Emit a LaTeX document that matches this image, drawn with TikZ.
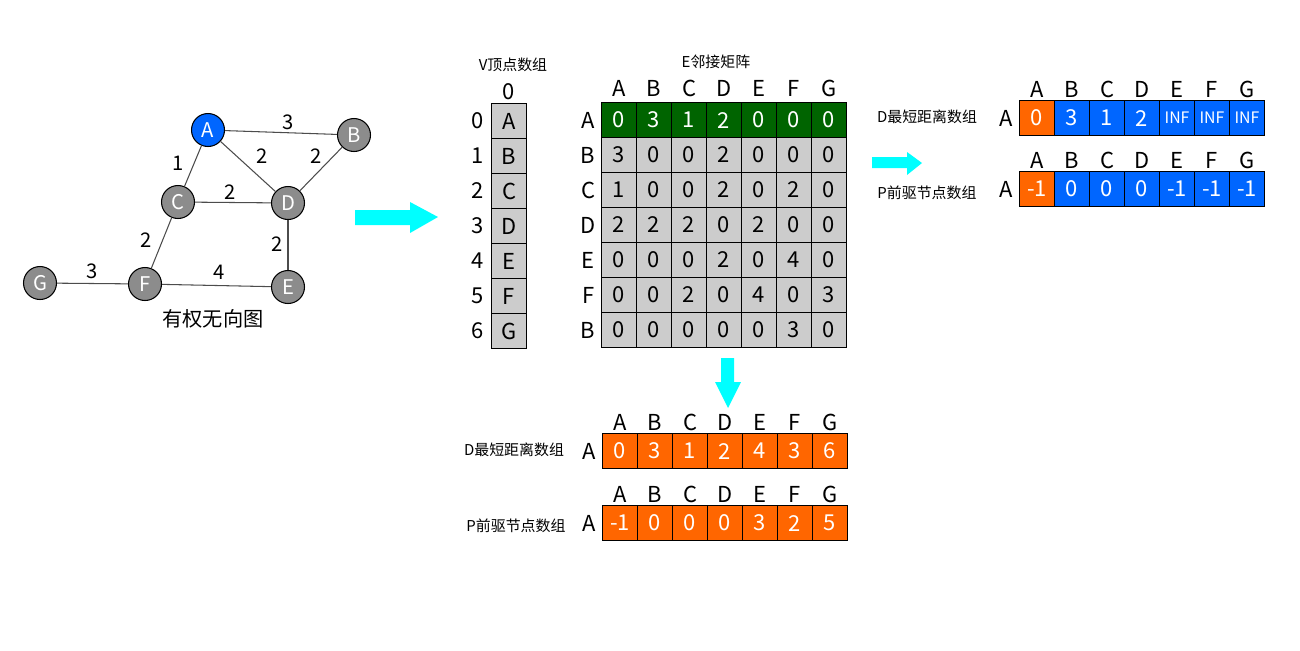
\documentclass[tikz,border=0pt]{standalone}
\usepackage{fontspec}
\setmainfont{Noto Sans CJK SC}
\usetikzlibrary{matrix}

\definecolor{blueA}{RGB}{0,102,255}
\definecolor{orangeA}{RGB}{255,102,0}
\definecolor{greenA}{RGB}{0,100,0}
\definecolor{cellgray}{RGB}{204,204,204}
\definecolor{nodegray}{RGB}{140,140,140}
\definecolor{flowcyan}{RGB}{0,255,255}

\begin{document}
\begin{tikzpicture}[
        x=0.02cm, y=-0.02cm, line width=0.6pt,
        vert/.style={circle, draw, fill=nodegray, text=white, minimum size=0.66cm, inner sep=0pt, font=\fontsize{11.5}{13}\selectfont}, % graph vertex
        link/.style={draw=black!70},
        wt/.style={inner sep=1pt, font=\fontsize{11.5}{13}\selectfont}, % edge weight
        arr/.style={draw, fill=cellgray, anchor=center, minimum size=0.7cm, inner sep=0pt, font=\fontsize{12.5}{14}\selectfont}, % array cell
        hd/.style={draw=none, fill=none, text=black, minimum height=0.5cm},
        lab/.style={draw=none, fill=none, text=black, minimum width=0.56cm},
        sm/.style={font=\fontsize{9}{10}\selectfont},
        arrname/.style={font=\fontsize{8.5}{10}\selectfont},
        flow/.style={fill=flowcyan},
        grid/.style={matrix of nodes, nodes={arr}, column sep=-\pgflinewidth, row sep=-\pgflinewidth, row 1/.style={nodes={hd}}},
    ]
    \useasboundingbox (0,0) rectangle (1300,650);

    % graph
    \node[vert, fill=blueA] (A) at (208,130) {A};
    \node[vert] (B) at (354,135) {B};
    \node[vert] (C) at (178,202) {C};
    \node[vert] (D) at (288,203) {D};
    \node[vert] (E) at (288,287) {E};
    \node[vert] (F) at (145,284) {F};
    \node[vert] (G) at (40,283) {G};
    \draw[link] (A) -- node[wt, above=0.5pt, pos=0.56] {3} (B);
    \draw[link] (A) -- node[wt, left=4.5pt, pos=0.44] {1} (C);
    \draw[link] (A) -- node[wt, above right=2pt, pos=0.55] {2} (D);
    \draw[link] (D) -- node[wt, above left=0pt, pos=0.58] {2} (B);
    \draw[link] (C) -- node[wt, above=0.5pt, pos=0.46] {2} (D);
    \draw[link] (C) -- node[wt, left=5pt, pos=0.44] {2} (F);
    \draw[link] (D) -- node[wt, left=1.5pt, pos=0.48] {2} (E);
    \draw[link] (G) -- node[wt, above=1.2pt, pos=0.5] {3} (F);
    \draw[link] (F) -- node[wt, above=2pt, pos=0.52] {4} (E);
    \node[font=\fontsize{11.5}{13}\selectfont] (gcap) at (213,319) {有权无向图};

    % arrows
    \fill[flow] (355,210) -- (410,210) -- (410,202) -- (438,217) -- (410,233) -- (410,225) -- (355,225) -- cycle;
    \fill[flow] (872,157) -- (907,157) -- (907,152) -- (922,163) -- (907,175) -- (907,168) -- (872,168) -- cycle;
    \fill[flow] (721,358) -- (734,358) -- (734,382) -- (741,382) -- (728,408) -- (715,382) -- (721,382) -- cycle;

    % vertex array
    \node[arrname] (vtitle) at (513,65) {V顶点数组};
    \matrix (vtx) [grid, matrix anchor=vtx-2-2.north west] at (491,103) {
          & 0 \\
        |[lab]| 0 & A \\
        |[lab]| 1 & B \\
        |[lab]| 2 & C \\
        |[lab]| 3 & D \\
        |[lab]| 4 & E \\
        |[lab]| 5 & F \\
        |[lab]| 6 & G \\
    };

    % adjacency matrix
    \node[arrname] (etitle) at (716,62) {E邻接矩阵};
    \matrix (adj) [grid, row 1/.style={nodes={hd, minimum height=0.6cm}}, row 2/.style={nodes={fill=greenA, text=white}}, matrix anchor=adj-2-2.north west] at (601,102) {
          & A & B & C & D & E & F & G \\
        |[lab]| A & 0 & 3 & 1 & 2 & 0 & 0 & 0 \\
        |[lab]| B & 3 & 0 & 0 & 2 & 0 & 0 & 0 \\
        |[lab]| C & 1 & 0 & 0 & 2 & 0 & 2 & 0 \\
        |[lab]| D & 2 & 2 & 2 & 0 & 2 & 0 & 0 \\
        |[lab]| E & 0 & 0 & 0 & 2 & 0 & 4 & 0 \\
        |[lab]| F & 0 & 0 & 2 & 0 & 4 & 0 & 3 \\
        |[lab]| B & 0 & 0 & 0 & 0 & 0 & 3 & 0 \\
    };

    % first step
    \node[arrname] (rdname) at (927,117) {D最短距离数组};
    \matrix (rd) [grid, row 1/.style={nodes={hd, minimum height=0.48cm}}, row 2/.style={nodes={fill=blueA, text=white}}, matrix anchor=rd-2-2.north west] at (1019,100) {
          & A & B & C & D & E & F & G \\
        |[lab]| A & |[fill=orangeA]| 0 & 3 & 1 & 2 & |[sm]| INF & |[sm]| INF & |[sm]| INF \\
    };
    \node[arrname] (rpname) at (927,193) {P前驱节点数组};
    \matrix (rp) [grid, row 1/.style={nodes={hd, minimum height=0.48cm}}, row 2/.style={nodes={fill=blueA, text=white}}, matrix anchor=rp-2-2.north west] at (1019,171) {
          & A & B & C & D & E & F & G \\
        |[lab]| A & |[fill=orangeA]| -1 & 0 & 0 & 0 & -1 & -1 & -1 \\
    };

    % result
    \node[arrname] (bdname) at (514,450) {D最短距离数组};
    \matrix (bd) [grid, row 1/.style={nodes={hd, minimum height=0.48cm}}, row 2/.style={nodes={fill=orangeA, text=white}}, matrix anchor=bd-2-2.north west] at (602,433) {
          & A & B & C & D & E & F & G \\
        |[lab]| A & 0 & 3 & 1 & 2 & 4 & 3 & 6 \\
    };
    \node[arrname] (bpname) at (516,526) {P前驱节点数组};
    \matrix (bp) [grid, row 1/.style={nodes={hd, minimum height=0.48cm}}, row 2/.style={nodes={fill=orangeA, text=white}}, matrix anchor=bp-2-2.north west] at (602,505) {
          & A & B & C & D & E & F & G \\
        |[lab]| A & -1 & 0 & 0 & 0 & 3 & 2 & 5 \\
    };
\end{tikzpicture}
\end{document}
